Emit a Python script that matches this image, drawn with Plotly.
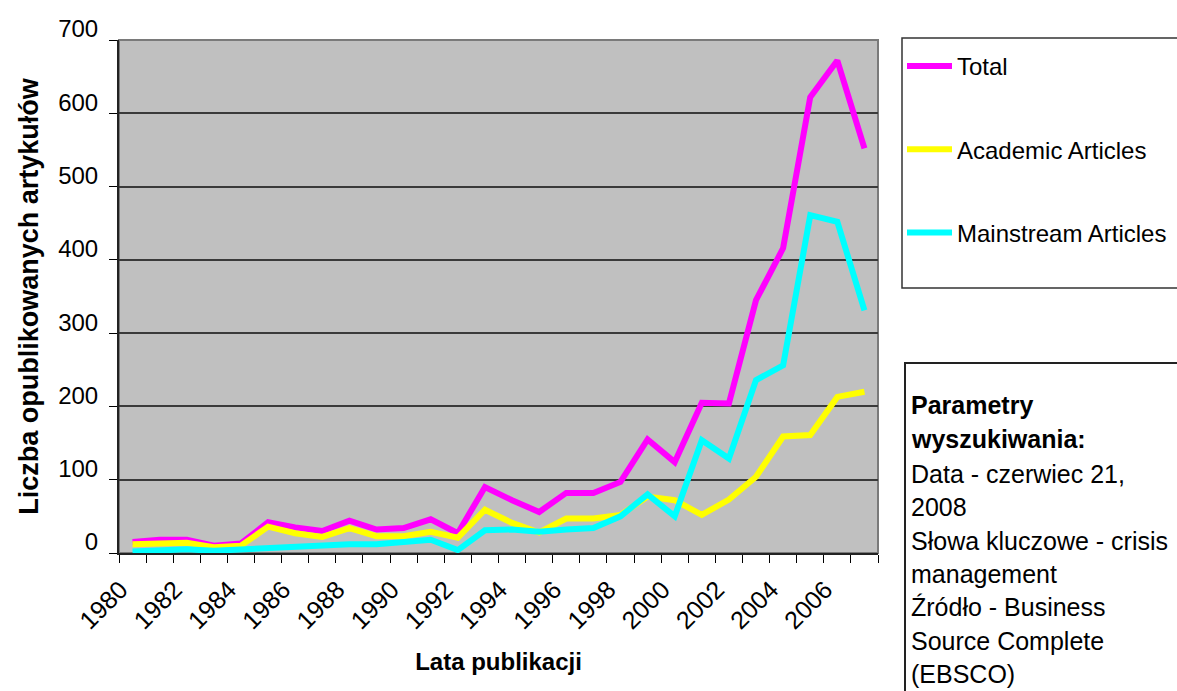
import plotly.graph_objects as go

# Publication counts per year (Business Source Complete, query "crisis management")
years = list(range(1980, 2008))
total = [15, 18, 18, 10, 13, 42, 35, 30, 44, 32, 34, 46, 27, 90, 72, 56, 82, 82,
         97, 155, 124, 205, 204, 345, 416, 622, 672, 552]
academic = [12, 14, 14, 8, 10, 36, 27, 22, 34, 23, 23, 29, 21, 59, 41, 28, 47, 47,
            52, 77, 72, 52, 73, 104, 159, 161, 213, 220]
mainstream = [2, 4, 5, 3, 5, 6, 9, 10, 12, 12, 16, 18, 4, 31, 32, 29, 32, 34,
              50, 80, 50, 154, 129, 236, 256, 461, 452, 331]

series_names = ["Total", "Academic Articles", "Mainstream Articles"]
series_colors = ["#FF00FF", "#FFFF00", "#00FFFF"]

tick_years = years[::2]
tick_text = [str(y) for y in tick_years]

info_lines = [
    ("<b>Parametry</b>", 405),
    ("<b>wyszukiwania:</b>", 439),
    ("Data - czerwiec 21,", 474),
    ("2008", 507),
    ("Słowa kluczowe - crisis", 541),
    ("management", 574),
    ("Źródło - Business", 607),
    ("Source Complete", 641),
    ("(EBSCO)", 674),
]

FONT = "Arial, Liberation Sans, sans-serif"
W, H = 1177, 691
L, R, T, B = 119, 878, 40, 553  # plot area in pixels


def px_x(p):
    return (p - L) / (R - L)


def px_y(p):
    return (B - p) / (B - T)


fig = go.Figure()
for name, color, vals in zip(series_names, series_colors, [total, academic, mainstream]):
    fig.add_trace(go.Scatter(
        x=years, y=vals, mode="lines", name=name, legendgroup=name,
        line=dict(color=color, width=6),
    ))

fig.update_layout(
    width=W, height=H, autosize=False,
    margin=dict(l=L, r=W - R, t=T, b=H - B, autoexpand=False),
    paper_bgcolor="white",
    plot_bgcolor="#c0c0c0",
    font=dict(family=FONT, color="black", size=24),
    showlegend=True,
    legend=dict(
        x=px_x(902), y=px_y(44), xanchor="left", yanchor="top",
        font=dict(family=FONT, size=24, color="black"),
        bgcolor="rgba(0,0,0,0)", borderwidth=0,
        traceorder="grouped", tracegroupgap=49,
        itemwidth=45,
    ),
    xaxis=dict(
        range=[1979.5, 2007.5],
        tickmode="array", tickvals=tick_years, ticktext=tick_text,
        tickangle=-45, ticks="", ticklabelshift=-12, ticklabelstandoff=10,
        tickfont=dict(family=FONT, size=25),
        minor=dict(tick0=1979.5, dtick=1, ticks="outside", ticklen=8,
                   tickcolor="black", tickwidth=1, showgrid=False),
        showgrid=False, zeroline=False,
        showline=True, linecolor="#222222", linewidth=2,
        title=dict(text="<b>Lata publikacji</b>", font=dict(family=FONT, size=24),
                   standoff=20),
    ),
    yaxis=dict(
        range=[0, 700], tickmode="linear", tick0=0, dtick=100,
        ticks="outside", ticklen=8, tickcolor="black", tickwidth=1,
        tickfont=dict(family=FONT, size=24),
        ticklabelshift=-11, ticklabelstandoff=6,
        showgrid=True, gridcolor="#3a3a3a", gridwidth=1.5,
        zeroline=False,
        showline=True, linecolor="#222222", linewidth=2,
        title=dict(text="<b>Liczba opublikowanych artykułów</b>",
                   font=dict(family=FONT, size=27), standoff=12),
    ),
)

# plot frame (top/right edges)
fig.add_shape(type="rect", xref="paper", yref="paper", x0=0, x1=1, y0=0, y1=1,
              line=dict(color="#7a7a7a", width=2), layer="below")

# legend frame
fig.add_shape(type="rect", xref="paper", yref="paper",
              x0=px_x(902), x1=px_x(1195), y0=px_y(288), y1=px_y(38),
              line=dict(color="#333333", width=1.5))

# search parameter box
fig.add_shape(type="rect", xref="paper", yref="paper",
              x0=px_x(905), x1=px_x(1195), y0=px_y(705), y1=px_y(363),
              line=dict(color="#222222", width=2))
for text, ypx in info_lines:
    fig.add_annotation(x=px_x(909), y=px_y(ypx), xref="paper", yref="paper",
                       text=text, showarrow=False, xanchor="left", yanchor="middle",
                       font=dict(family=FONT, size=25, color="black"))

fig.write_html("out.html")
